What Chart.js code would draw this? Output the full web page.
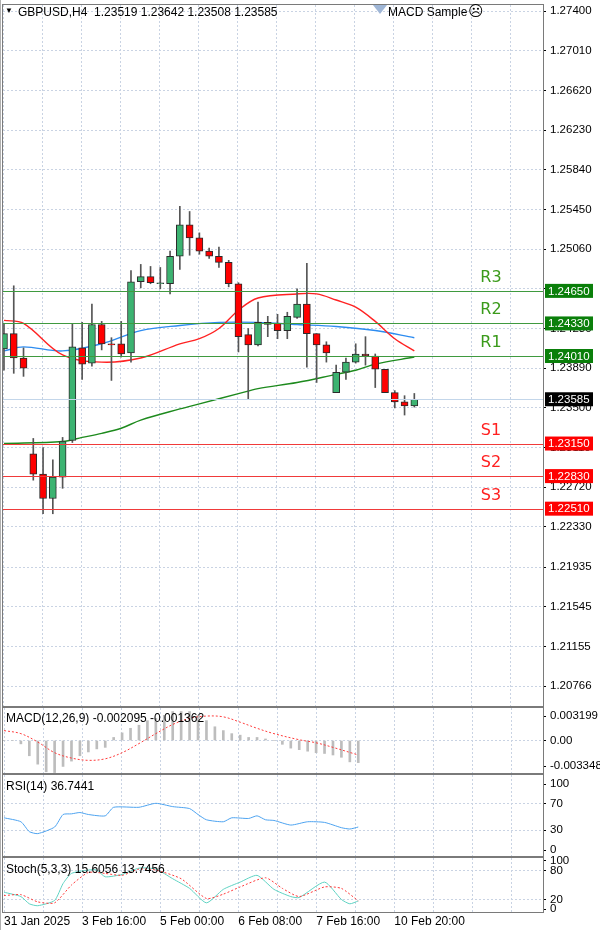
<!DOCTYPE html>
<html><head><meta charset="utf-8">
<script src="https://cdn.jsdelivr.net/npm/chart.js@4"></script>
<style>
html,body{margin:0;padding:0;background:#fff;width:600px;height:930px;overflow:hidden;font-family:"Liberation Sans",sans-serif;}
canvas{position:absolute;left:0;}
.t{position:absolute;font-size:12px;color:#000;white-space:pre;font-family:"Liberation Sans",sans-serif;}
</style></head><body>
<canvas id="main" style="top:0px" width="600" height="707"></canvas>
<canvas id="macd" style="top:706px" width="600" height="68"></canvas>
<canvas id="rsi" style="top:773px" width="600" height="84"></canvas>
<canvas id="stoch" style="top:856px" width="600" height="74"></canvas>
<div class="t" style="left:5px;top:6px;font-size:8px">▼</div>
<div class="t" style="left:18px;top:5px">GBPUSD,H4  1.23519 1.23642 1.23508 1.23585</div>
<div style="position:absolute;left:373px;top:5px;width:0;height:0;border-left:7px solid transparent;border-right:7px solid transparent;border-top:9px solid #9fb6d6"></div>
<div class="t" style="left:388px;top:5px">MACD Sample</div>
<div class="t" style="left:468px;top:2px;font-size:15px;font-family:'DejaVu Sans'">☹</div>
<div class="t" style="left:6px;top:711px">MACD(12,26,9) -0.002095 -0.001362</div>
<div class="t" style="left:6px;top:779px">RSI(14) 36.7441</div>
<div class="t" style="left:6px;top:862px">Stoch(5,3,3) 15.6056 13.7456</div>
<script>
// ---- price data (H4 candles) ----
const openP  = [1.2408,1.2423,1.2399,1.2305,1.2285,1.2261,1.2282,1.2318,1.2409,1.2394,1.2432,1.2413,1.2413,1.2404,1.2474,1.2479,1.2472,1.2472,1.2499,1.2530,1.2517,1.2504,1.2499,1.2493,1.2472,1.2422,1.2412,1.2434,1.2433,1.2426,1.2439,1.2452,1.2423,1.2412,1.2365,1.2385,1.2395,1.2403,1.2401,1.2388,1.2365,1.2356,1.23519];
const highP  = [1.2433,1.2470,1.2409,1.2320,1.2311,1.2299,1.2321,1.2433,1.2434,1.2452,1.2435,1.2419,1.2435,1.2485,1.2491,1.2489,1.2488,1.2504,1.2548,1.2543,1.2522,1.2507,1.2508,1.2495,1.2473,1.2428,1.2454,1.2440,1.2442,1.2444,1.2467,1.2492,1.2423,1.2415,1.2392,1.2399,1.2413,1.2420,1.2403,1.2388,1.2367,1.2362,1.23642];
const lowP   = [1.2387,1.2384,1.2381,1.2279,1.2246,1.2246,1.2271,1.2316,1.2378,1.2391,1.2407,1.2377,1.2400,1.2395,1.2468,1.2472,1.2467,1.2462,1.2486,1.2500,1.2501,1.2497,1.2488,1.2469,1.2405,1.2359,1.2411,1.2420,1.2418,1.2418,1.2438,1.2390,1.2375,1.2395,1.2365,1.2378,1.2394,1.2392,1.2370,1.2365,1.2350,1.2343,1.23508];
const closeP = [1.2423,1.2399,1.2389,1.2285,1.2261,1.2282,1.2317,1.2410,1.2393,1.2432,1.2413,1.2412,1.2403,1.2474,1.2479,1.2473,1.2473,1.2499,1.2530,1.2517,1.2504,1.2499,1.2493,1.2472,1.2420,1.2412,1.2434,1.2432,1.2426,1.2440,1.2452,1.2423,1.2412,1.2404,1.2385,1.2395,1.2403,1.2401,1.2388,1.2365,1.2356,1.2352,1.23585];
const _=null;
const maRed   = [1.2436,_,1.2433,_,_,_,1.2402,_,_,_,1.2395,_,_,_,1.2399,_,_,_,1.2413,_,1.2418,_,1.2428,_,1.2446,_,1.2458,_,_,_,1.2462,_,1.2462,_,1.2456,_,1.2449,_,1.2435,_,1.2418,_,1.2406];
const maBlue  = [1.2406,_,1.2410,_,_,_,1.2406,_,_,_,1.2413,_,_,_,1.2426,_,_,_,1.2431,_,_,_,1.2434,_,_,_,1.2434,_,_,_,1.2432,_,_,_,1.2430,_,_,_,1.2426,_,_,_,1.2419];
const maGreen = [1.2315,_,_,_,_,_,1.2317,_,1.2321,_,1.2325,_,1.2330,_,1.2338,_,_,_,1.2349,_,1.2354,_,_,_,1.2364,_,1.2369,_,_,_,1.2375,_,_,_,1.2383,_,1.2387,_,1.2393,_,_,_,1.2400];
const levelNames  = ['R3','R2','R1','S1','S2','S3'];
const levelValues = [1.24650,1.24330,1.24010,1.23150,1.22830,1.22510];
const lastPrice = 1.23585;
const priceTicks = [1.27400,1.27010,1.26620,1.26230,1.25840,1.25450,1.25060,1.24670,1.24280,1.23890,1.23500,1.23110,1.22720,1.22330,1.21935,1.21545,1.21155,1.20766];
// ---- indicators ----
const macdHist = [0,0,-0.00044,-0.0020,-0.0031,-0.0041,-0.0042,-0.0034,-0.0027,-0.0020,-0.0015,-0.0011,-0.0009,0.0004,0.0010,0.0016,0.0020,0.0026,0.0029,0.0033,0.0038,0.0038,0.0038,0.0033,0.0026,0.0018,0.0013,0.0009,0.0007,0.0004,0.0004,0.0002,0,-0.0005,-0.0010,-0.0012,-0.0014,-0.0016,-0.0017,-0.0019,-0.0022,-0.0028,-0.0029];
const macdSignal = [0.0013,_,0.0009,_,-0.0002,_,-0.0016,_,-0.0023,_,-0.0026,_,-0.0024,_,-0.0016,_,-0.0004,_,0.0009,_,0.0021,_,0.0029,_,0.0032,_,0.0031,_,0.0024,_,0.0016,_,0.0009,_,_,0.0001,_,-0.0003,_,-0.0009,_,_,-0.0019];
const macdTicks = [0.003199,0,-0.003348];
const rsiVals = [49,_,43,28,25,_,35,54,55,57,54,_,52,65,_,_,65,_,71,_,66,_,63,54,46,_,43,49,_,48,52,46,45,_,38,_,43,_,42,_,34,32,35];
const rsiTicks = [100,70,30,0];
const stochK = [35,_,26,11,7,_,18,53,74,_,81,81,67,_,72,_,85,_,83,_,63,_,43,_,13,_,41,_,56,_,70,_,41,_,26,24,_,_,56,_,20,11,17];
const stochD = [28,_,30,_,15,_,13,_,50,_,76,_,74,_,70,_,83,_,81,_,_,63,_,_,22,_,31,_,46,_,_,65,_,43,_,26,_,_,46,_,43,_,17];
const stochTicks = [100,80,20,0];
const dateLabels = ['31 Jan 2025','3 Feb 16:00','5 Feb 00:00','6 Feb 08:00','7 Feb 16:00','10 Feb 20:00'];

const FONT = {family:'Liberation Sans', size:11.5};
const GRIDC = '#c9d3e3';
const idx = closeP.map((v,i)=>i);
const pts = arr => arr.map((v,i)=>({x:i,y:v}));

function frame(){
  return {id:'frame', afterDraw(c){
    const a=c.chartArea, g=c.ctx; g.save();
    g.strokeStyle='#7a7a7a'; g.lineWidth=1;
    g.strokeRect(a.left-0.5,a.top-0.5,a.right-a.left+1,a.bottom-a.top+1);
    g.strokeStyle='#b0b0b0'; g.beginPath(); g.moveTo(0.5,0); g.lineTo(0.5,c.height); g.stroke();
    g.restore();
  }};
}
function yAxis(ticks,min,max,fmt,gridFn){
  return {position:'right',min,max,
    afterBuildTicks(s){s.ticks=ticks.map(v=>({value:v}));},
    afterFit(s){s.width=57;s.paddingTop=0;s.paddingBottom=0;},
    ticks:{font:FONT,color:'#000',padding:4,autoSkip:false,callback:(v)=>fmt(v)},
    grid:{color:gridFn,drawTicks:true,tickLength:3,tickColor:'#000'},
    border:{dash:[2,2],display:false}};
}
function xAxis(min,max,step,labelFn){
  const n=14;
  return {type:'linear',min,max,offset:false,
    afterBuildTicks(s){s.ticks=[...Array(n).keys()].map(k=>({value:k*step}));},
    afterFit(s){s.height=labelFn?18:0;s.paddingLeft=0;s.paddingRight=0;},
    ticks:{display:!!labelFn,font:{family:'Liberation Sans',size:12},color:'#000',autoSkip:false,maxRotation:0,align:'start',padding:2,
      callback:(v,i)=>labelFn?labelFn(i):''},
    grid:{color:GRIDC,drawTicks:false,offset:false},border:{dash:[2,2],display:false}};
}
const base = {responsive:false,animation:false,events:[],plugins:{legend:{display:false},tooltip:{enabled:false}}};

// ---- main ----
const up = idx.map(i=>closeP[i]>=openP[i]);
const levelPlugin = {id:'levels', afterDatasetsDraw(c){
  const g=c.ctx,y=c.scales.y,a=c.chartArea; g.save();
  const py=Math.round(y.getPixelForValue(lastPrice))+0.5;
  g.strokeStyle='#c3d6ea'; g.lineWidth=1; g.beginPath(); g.moveTo(a.left,py); g.lineTo(a.right,py); g.stroke();
  levelNames.forEach((n,i)=>{
    const p=Math.round(y.getPixelForValue(levelValues[i]))+0.5, res=n[0]==='R';
    g.strokeStyle=res?'#3f9a3f':'#f03a3a'; g.beginPath(); g.moveTo(a.left,p); g.lineTo(a.right,p); g.stroke();
    g.fillStyle=res?'#3a9a1a':'#ff2020'; g.font='16px "DejaVu Sans"'; g.textAlign='center'; g.textBaseline='bottom';
    g.fillText(n,491,p-6);
  });
  g.restore();
}, afterDraw(c){
  const g=c.ctx,y=c.scales.y; g.save(); g.font='11.5px "Liberation Sans"'; g.textBaseline='middle'; g.textAlign='left';
  const box=(v,bg)=>{const p=y.getPixelForValue(v); g.fillStyle=bg; g.fillRect(545,p-7,48,14); g.fillStyle='#fff'; g.fillText(v.toFixed(5),548,p+0.5);};
  levelNames.forEach((n,i)=>box(levelValues[i],n[0]==='R'?'#0a7f0a':'#ff0000'));
  box(lastPrice,'#000'); g.restore();
}};
new Chart(document.getElementById('main'),{type:'bar',
  data:{datasets:[
    {type:'line',data:pts(maGreen),borderColor:'#1d8a1d',borderWidth:1.4,pointRadius:0,spanGaps:true,tension:0.35,order:5},
    {type:'line',data:pts(maBlue),borderColor:'#2d8cf0',borderWidth:1.4,pointRadius:0,spanGaps:true,tension:0.35,order:4},
    {type:'line',data:pts(maRed),borderColor:'#ff2222',borderWidth:1.4,pointRadius:0,spanGaps:true,tension:0.35,order:3},
    {data:idx.map(i=>({x:i,y:[lowP[i],highP[i]]})),backgroundColor:'#555',barThickness:1,order:2,grouped:false},
    {data:idx.map(i=>({x:i,y:[openP[i],closeP[i]]})),backgroundColor:up.map(u=>u?'#3cb371':'#ff0000'),borderColor:'#2b2b2b',borderWidth:1,borderSkipped:false,barThickness:7,minBarLength:1,order:1,grouped:false}
  ]},
  options:{...base,layout:{padding:{top:5,bottom:1,left:3,right:0}},
    scales:{x:xAxis(-0.1,55.17,3.99,null),
      y:yAxis(priceTicks,1.20571,1.27459,v=>v.toFixed(5),()=>GRIDC)}},
  plugins:[levelPlugin,frame()]
});
// ---- MACD ----
new Chart(document.getElementById('macd'),{type:'bar',
  data:{datasets:[
    {type:'line',data:pts(macdSignal),borderColor:'#ff3b3b',borderDash:[2,2],borderWidth:1,pointRadius:0,spanGaps:true,tension:0.35},
    {data:pts(macdHist),backgroundColor:'#bdbdbd',barThickness:2}
  ]},
  options:{...base,layout:{padding:{top:2,bottom:1,left:3}},
    scales:{x:xAxis(-0.12,63.9,4.626,null),
      y:yAxis(macdTicks,-0.00426,0.00426,v=>v===0?'0.00':v.toFixed(6),(ctx)=>ctx.tick&&ctx.tick.value===0?GRIDC:'transparent')}},
  plugins:[frame()]
});
// ---- RSI ----
new Chart(document.getElementById('rsi'),{type:'line',
  data:{datasets:[{data:pts(rsiVals),borderColor:'#4da3f0',borderWidth:1,pointRadius:0,spanGaps:true,tension:0.2}]},
  options:{...base,layout:{padding:{top:2,bottom:1,left:3}},
    scales:{x:xAxis(-0.12,63.9,4.626,null),
      y:yAxis(rsiTicks,-9,114,v=>String(v),(ctx)=>ctx.tick&&(ctx.tick.value===70||ctx.tick.value===30)?GRIDC:'transparent')}},
  plugins:[frame()]
});
// ---- Stoch ----
new Chart(document.getElementById('stoch'),{type:'line',
  data:{datasets:[
    {data:pts(stochD),borderColor:'#ff3b3b',borderDash:[2,2],borderWidth:1,pointRadius:0,spanGaps:true,tension:0.2},
    {data:pts(stochK),borderColor:'#5fd3c3',borderWidth:1,pointRadius:0,spanGaps:true,tension:0.2}
  ]},
  options:{...base,layout:{padding:{top:2,bottom:0,left:3}},
    scales:{x:xAxis(-0.12,63.9,4.626,(i)=>(i%2===0&&i/2<dateLabels.length)?dateLabels[i/2]:''),
      y:yAxis(stochTicks,-6,106,v=>String(v),(ctx)=>ctx.tick&&(ctx.tick.value===80||ctx.tick.value===20)?GRIDC:'transparent')}},
  plugins:[frame()]
});
</script></body></html>
